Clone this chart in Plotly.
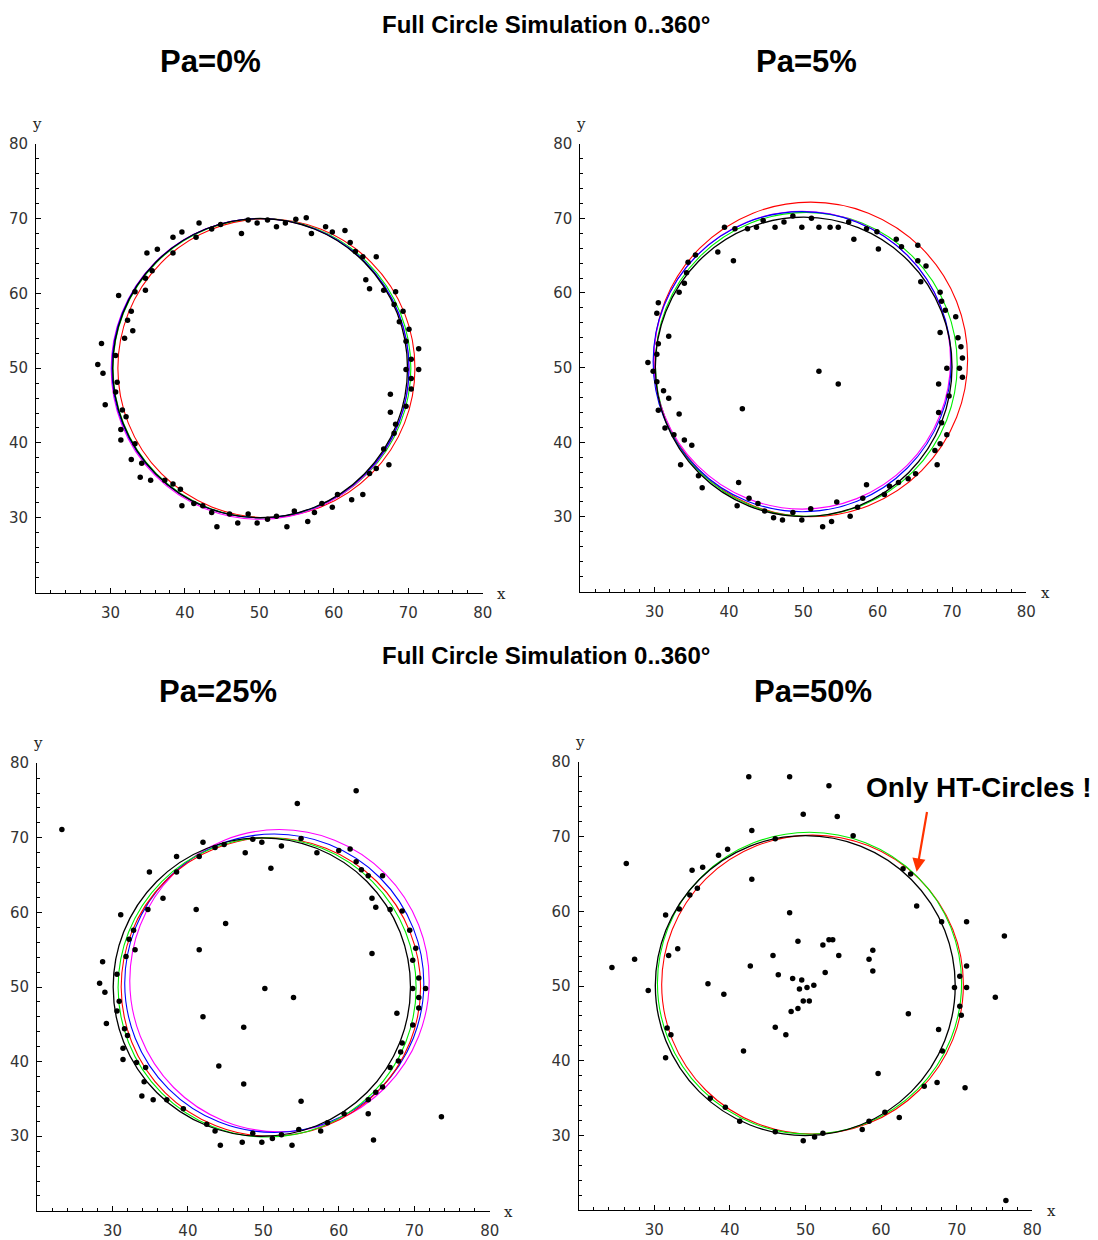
import plotly.graph_objects as go

# ---------------- data ----------------
panel_titles = ["Pa=0%", "Pa=5%", "Pa=25%", "Pa=50%"]
main_title = "Full Circle Simulation 0..360°"
tick_vals = [30, 40, 50, 60, 70, 80]
tick_text = ["30", "40", "50", "60", "70", "80"]

p0_x = [41.9, 39.6, 38.4, 41.5, 36.3, 34.9, 38.4, 47.6, 48.5, 49.7, 51.1, 43.6, 44.8, 35.6, 34.7, 34.7, 33.3, 31.1,
        32.8, 32.3, 33.0, 31.9, 28.8, 30.7, 28.3, 29.0, 30.9, 30.7, 29.3, 31.6, 32.1, 31.4, 31.4, 33.3, 32.8, 34.2,
        34.0, 35.4, 37.3, 38.4, 39.4, 39.6, 41.2, 42.4, 43.6, 44.3, 46.0, 47.1, 48.5, 49.7, 51.1, 52.3, 53.5, 54.9,
        56.3, 57.0, 58.9, 59.8, 61.5, 62.2, 62.9, 63.9, 65.7, 64.3, 64.8, 66.7, 68.3, 68.1, 69.3, 68.8, 70.1, 69.7,
        71.4, 70.4, 69.7, 71.4, 70.4, 70.4, 67.6, 69.7, 67.6, 68.3, 68.1, 66.7, 65.7, 67.4, 64.8, 63.9, 62.4, 60.5,
        59.8, 58.4, 57.4, 56.5, 54.7, 53.7, 52.3]
p0_y = [69.4, 68.2, 67.5, 67.5, 65.9, 65.4, 65.4, 68.0, 69.8, 69.4, 69.8, 68.6, 69.2, 63.0, 62.0, 60.4, 60.2, 59.7,
        57.6, 56.4, 55.0, 54.0, 53.3, 51.7, 50.5, 49.3, 48.1, 46.8, 45.1, 44.4, 43.5, 41.8, 40.4, 39.9, 37.8, 37.3,
        35.4, 35.0, 35.0, 34.5, 33.8, 31.6, 31.9, 31.6, 30.7, 28.8, 30.5, 29.3, 30.5, 29.3, 29.8, 68.9, 69.4, 69.9,
        70.1, 68.0, 68.9, 68.2, 68.4, 66.8, 65.6, 64.9, 64.9, 61.8, 60.6, 60.4, 60.2, 58.5, 57.6, 56.2, 55.2, 53.6,
        52.6, 51.2, 49.8, 49.8, 48.6, 47.2, 46.5, 44.9, 44.1, 42.5, 41.3, 39.2, 36.6, 37.1, 35.9, 33.1, 32.4, 33.1,
        31.4, 31.9, 30.7, 29.5, 30.9, 28.8, 30.2]

p5_x = [39.4, 40.8, 42.5, 43.7, 44.6, 46.2, 47.4, 48.6, 49.8, 38.5, 40.6, 35.5, 34.5, 34.3, 34.0, 33.3, 30.5, 30.3,
        31.9, 30.5, 30.3, 29.1, 29.8, 30.3, 31.2, 31.9, 30.5, 33.3, 31.4, 32.6, 34.0, 35.0, 33.5, 35.9, 36.4, 41.3,
        41.1, 42.7, 43.9, 44.8, 46.0, 47.2, 48.6, 49.8, 41.8, 51.1, 52.1, 53.6, 54.7, 56.1, 56.8, 58.5, 59.9, 60.1,
        62.5, 63.2, 65.4, 65.4, 66.5, 65.8, 68.4, 68.6, 69.1, 70.5, 68.4, 70.8, 71.2, 71.4, 69.3, 71.0, 71.4, 52.1,
        54.7, 68.2, 69.6, 68.2, 68.6, 69.3, 68.4, 67.7, 68.0, 65.1, 64.1, 62.8, 61.6, 58.5, 60.9, 58.0, 57.3, 54.5,
        56.3, 53.8, 52.6, 51.0]
p5_y = [68.8, 68.6, 68.6, 68.8, 69.7, 68.8, 69.5, 70.3, 68.8, 65.5, 64.3, 65.1, 64.1, 62.7, 61.3, 60.1, 58.7, 57.3,
        54.2, 53.2, 51.8, 50.7, 49.5, 48.1, 46.9, 45.9, 44.3, 43.8, 41.9, 41.0, 40.3, 39.6, 37.0, 35.5, 33.9, 34.6,
        31.5, 32.5, 31.8, 30.8, 29.9, 29.6, 30.6, 29.6, 44.5, 70.0, 68.8, 68.8, 68.8, 69.5, 67.2, 68.6, 68.2, 65.9,
        67.2, 66.2, 66.4, 64.3, 63.6, 61.5, 60.1, 58.9, 57.7, 56.8, 54.7, 54.0, 52.8, 51.3, 49.9, 49.9, 48.7, 49.5,
        47.8, 47.8, 46.2, 44.0, 42.6, 41.0, 39.8, 38.9, 37.0, 35.8, 35.1, 34.6, 34.1, 34.3, 33.0, 32.5, 31.3, 32.0,
        30.1, 29.4, 28.7, 31.1]

p25_x = [23.3, 54.5, 62.3, 42.0, 48.6, 49.8, 47.6, 52.4, 55.0, 57.1, 60.0, 61.5, 62.3, 43.6, 44.8, 38.5, 41.5, 34.9,
         38.5, 51.0, 36.7, 34.7, 41.1, 45.0, 31.1, 32.8, 32.2, 33.0, 41.5, 31.8, 28.7, 30.6, 28.3, 29.0, 50.2, 54.0,
         30.9, 30.6, 29.2, 42.0, 47.4, 31.6, 32.0, 31.4, 31.4, 33.2, 34.4, 44.1, 34.2, 47.4, 33.9, 35.4, 37.2, 55.0,
         39.4, 63.9, 73.6, 42.5, 43.6, 44.3, 47.2, 48.6, 49.8, 51.2, 52.4, 53.8, 54.7, 57.6, 58.5, 60.7, 64.6, 63.9,
         64.9, 65.8, 66.8, 67.9, 68.2, 68.4, 67.7, 69.8, 70.6, 70.6, 69.8, 71.5, 70.6, 69.8, 70.2, 64.4, 69.4, 68.4,
         66.8, 64.9, 64.4, 65.8, 63.9, 63.0]
p25_y = [71.1, 74.6, 76.3, 69.4, 69.8, 69.4, 68.0, 68.9, 69.9, 68.0, 68.3, 68.5, 66.8, 68.7, 69.1, 67.5, 67.5, 65.4,
         65.4, 65.9, 61.9, 60.4, 60.4, 58.5, 59.7, 57.6, 56.4, 55.0, 55.0, 54.1, 53.4, 51.7, 50.5, 49.3, 49.8, 48.6,
         48.1, 46.8, 45.1, 46.0, 44.6, 44.4, 43.5, 41.8, 40.3, 39.9, 39.2, 39.4, 37.3, 37.0, 35.4, 34.9, 34.9, 34.7,
         33.7, 33.0, 32.6, 31.6, 30.7, 28.8, 29.2, 30.4, 29.2, 29.7, 30.2, 28.8, 30.9, 30.7, 31.8, 33.0, 29.5, 34.9,
         35.9, 36.6, 39.2, 40.1, 41.3, 42.5, 46.5, 44.9, 47.2, 48.6, 49.8, 49.8, 51.2, 53.6, 55.2, 54.5, 57.6, 60.2,
         60.4, 60.7, 61.9, 64.9, 64.9, 65.7]

p50_x = [42.5, 47.9, 53.1, 49.7, 54.2, 42.9, 56.3, 46.0, 39.7, 38.5, 36.4, 35.0, 26.3, 42.9, 35.7, 34.7, 33.3, 31.5,
         47.9, 62.9, 63.9, 64.7, 68.0, 71.3, 76.3, 49.0, 52.3, 53.1, 53.6, 33.1, 31.9, 27.4, 24.4, 42.7, 45.7, 46.4,
         48.3, 49.5, 52.6, 54.4, 58.4, 58.9, 58.9, 29.2, 37.1, 39.2, 49.2, 50.2, 51.1, 49.7, 50.5, 49.0, 48.1, 46.0,
         47.4, 69.7, 71.3, 71.3, 70.4, 70.4, 70.6, 75.1, 63.6, 67.6, 68.1, 67.4, 71.1, 65.7, 59.6, 60.5, 62.4, 58.4,
         57.5, 52.3, 51.2, 49.7, 46.0, 41.3, 39.4, 37.4, 31.5, 32.2, 31.7, 41.8, 76.5]
p50_y = [78.0, 78.0, 76.8, 73.0, 72.7, 70.8, 70.1, 69.7, 68.3, 67.5, 65.9, 65.5, 66.4, 64.3, 63.1, 62.2, 60.3, 59.5,
         59.8, 65.7, 65.0, 60.7, 58.6, 58.6, 56.7, 56.0, 55.5, 56.2, 56.2, 55.0, 54.1, 53.6, 52.5, 52.7, 54.1, 51.5,
         51.0, 50.8, 51.8, 54.1, 53.6, 54.8, 52.0, 49.4, 50.3, 48.9, 49.6, 49.8, 50.1, 48.0, 48.0, 47.0, 46.6, 44.5,
         43.5, 49.8, 49.8, 52.7, 51.3, 47.3, 46.1, 48.5, 46.3, 44.2, 41.3, 37.1, 36.4, 36.6, 38.3, 33.1, 32.4, 31.9,
         30.8, 30.3, 29.8, 29.3, 30.5, 31.9, 33.8, 35.0, 40.4, 43.5, 44.4, 41.3, 21.3]

points_x = [p0_x, p5_x, p25_x, p50_x]
points_y = [p0_y, p5_y, p25_y, p50_y]

# fitted curves per panel: colour, centre x, centre y, radius x, radius y
c0_color = ["#ff0000", "#00ee00", "#ff00ff", "#0000ff", "#000000"]
c0_cx = [50.95, 50.35, 50.1, 50.15, 50.1]
c0_cy = [50.0, 50.0, 49.9, 50.0, 50.0]
c0_rx = [19.95, 20.0, 20.0, 19.95, 19.8]
c0_ry = [19.96, 20.0, 20.1, 20.0, 20.0]

c5_color = ["#ff0000", "#00ee00", "#ff00ff", "#0000ff", "#000000"]
c5_cx = [51.0, 50.4, 49.85, 49.85, 50.05]
c5_cy = [51.1, 50.45, 51.0, 50.8, 50.1]
c5_rx = [21.1, 20.3, 19.95, 20.05, 19.95]
c5_ry = [21.07, 20.35, 19.95, 20.1, 20.05]

c25_color = ["#ff00ff", "#0000ff", "#ff0000", "#00ee00", "#000000"]
c25_cx = [52.14, 51.45, 51.0, 50.5, 49.8]
c25_cy = [50.85, 50.5, 50.0, 49.95, 50.0]
c25_rx = [19.84, 19.82, 19.84, 19.75, 19.7]
c25_ry = [20.25, 20.0, 20.0, 20.05, 20.0]

c50_color = ["#ff0000", "#00ee00", "#000000"]
c50_cx = [50.93, 50.53, 49.97]
c50_cy = [50.2, 50.38, 50.07]
c50_rx = [19.95, 20.11, 19.83]
c50_ry = [20.0, 20.2, 20.07]

curves = [(c0_color, c0_cx, c0_cy, c0_rx, c0_ry),
          (c5_color, c5_cx, c5_cy, c5_rx, c5_ry),
          (c25_color, c25_cx, c25_cy, c25_rx, c25_ry),
          (c50_color, c50_cx, c50_cy, c50_rx, c50_ry)]

note_text = "Only HT-Circles !"
arrow_tail = (66.1, 73.5)
arrow_head = (64.7, 65.3)

# ---------------- layout ----------------
W, H = 1098, 1240
SX, OY, SY = 0.9915, 8.0, 0.99355   # observed page rendering transform, compensated below


def fx(px):
    return (px / SX) / W


def fy(py):
    return 1 - ((py - OY) / SY) / H


# plot area pixel boxes in the target picture: (left, right, top, bottom)
boxes = [(36, 483, 143, 593), (580.6, 1027, 143, 592),
         (37, 490, 764, 1212.8), (579, 1033, 762.7, 1212.2)]

fig = go.Figure()
layout = dict(width=W, height=H, margin=dict(l=0, r=0, t=0, b=0),
              paper_bgcolor="white", plot_bgcolor="rgba(0,0,0,0)", showlegend=False)

tickfont = dict(family="DejaVu Sans, Verdana, sans-serif", size=15, color="#333333")
axlab_font = dict(family="DejaVu Serif, Courier New, serif", size=15, color="#222222")
shapes = []
annotations = []

for i in range(4):
    n = "" if i == 0 else str(i + 1)
    l, r, t, b = boxes[i]
    common = dict(range=[20, 80], showline=True, linecolor="black", linewidth=1, mirror=False,
                  showgrid=False, zeroline=False, ticks="inside", ticklen=5, tickcolor="black",
                  tickvals=tick_vals, ticktext=tick_text, tickfont=tickfont,
                  minor=dict(ticks="inside", ticklen=3, dtick=2, tick0=20, tickcolor="black", showgrid=False),
                  fixedrange=True)
    layout["xaxis" + n] = dict(domain=[fx(l), fx(r)], anchor="y" + n, ticklabelstandoff=6, **common)
    layout["yaxis" + n] = dict(domain=[fy(b), fy(t)], anchor="x" + n, ticklabelstandoff=4, **common)

    cols, cxs, cys, rxs, rys = curves[i]
    for c, cx, cy, rx, ry in zip(cols, cxs, cys, rxs, rys):
        shapes.append(dict(type="circle", xref="x" + n, yref="y" + n,
                           x0=cx - rx, x1=cx + rx, y0=cy - ry, y1=cy + ry,
                           line=dict(color=c, width=1.3 if c == "#000000" else 1.1), layer="below"))

    fig.add_trace(go.Scatter(x=points_x[i], y=points_y[i], mode="markers",
                             marker=dict(size=5.5, color="black"),
                             xaxis="x" + n, yaxis="y" + n, hoverinfo="skip"))

    annotations.append(dict(text="y", xref="paper", yref="paper", x=fx(l + 1), y=fy(t - 20),
                            showarrow=False, xanchor="center", yanchor="middle", font=axlab_font))
    annotations.append(dict(text="x", xref="paper", yref="paper", x=fx(r + 19), y=fy(b + 1),
                            showarrow=False, xanchor="center", yanchor="middle", font=axlab_font))

title_font = dict(family="Liberation Sans, Arial, sans-serif", size=24, color="black")
pa_font = dict(family="Liberation Sans, Arial, sans-serif", size=31, color="black")
for ty in (24, 656):
    annotations.append(dict(text="<b>" + main_title + "</b>", xref="paper", yref="paper",
                            x=fx(546), y=fy(ty), showarrow=False, xanchor="center", yanchor="middle",
                            font=title_font))
pa_pos = [(211, 61), (807, 61), (218, 692), (813, 692)]
for (px, py), txt in zip(pa_pos, panel_titles):
    annotations.append(dict(text="<b>" + txt + "</b>", xref="paper", yref="paper",
                            x=fx(px), y=fy(py), showarrow=False, xanchor="center", yanchor="middle",
                            font=pa_font))

annotations.append(dict(text="<b>" + note_text + "</b>", xref="paper", yref="paper",
                        x=fx(980), y=fy(788), showarrow=False, xanchor="center", yanchor="middle",
                        font=dict(family="Liberation Sans, Arial, sans-serif", size=28, color="black")))
annotations.append(dict(text="", xref="x4", yref="y4", x=arrow_head[0], y=arrow_head[1],
                        axref="x4", ayref="y4", ax=arrow_tail[0], ay=arrow_tail[1],
                        showarrow=True, arrowhead=2, arrowsize=1.2, arrowwidth=2.2, arrowcolor="#ff3300"))

layout["shapes"] = shapes
layout["annotations"] = annotations
fig.update_layout(**layout)
fig.write_html("out.html")
